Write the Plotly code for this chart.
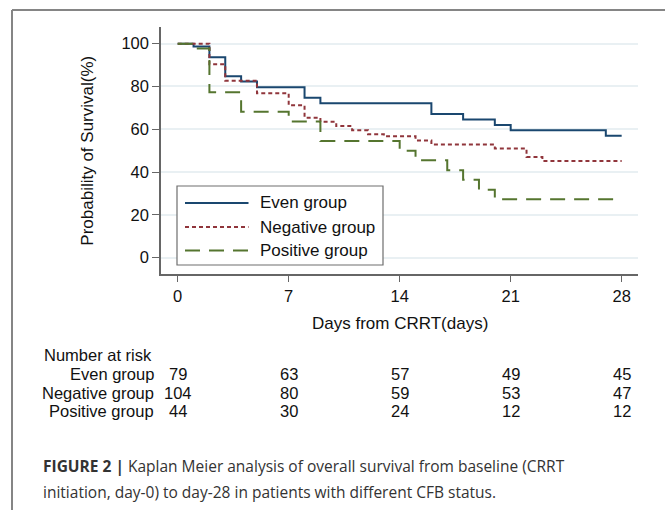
import plotly.graph_objects as go

# ---- data ----
groups = ["Even group", "Negative group", "Positive group"]

days_even = [0, 1, 2, 3, 4, 5, 8, 9, 16, 18, 20, 21, 27, 28]
surv_even = [100, 98.7, 93.7, 84.8, 82.3, 79.7, 74.7, 72.2, 67.1, 64.6, 62.0, 59.5, 57.0, 57.0]

days_neg = [0, 2, 3, 5, 7, 8, 9, 10, 11, 12, 13, 15, 16, 20, 22, 23, 28]
surv_neg = [100, 90.4, 82.7, 76.9, 71.2, 65.4, 63.5, 61.5, 59.6, 57.7, 56.7, 54.8, 52.9, 51.0, 47.1, 45.2, 45.2]

days_pos = [0, 1, 2, 4, 7, 9, 14, 15, 17, 18, 19, 20, 28]
surv_pos = [100, 97.7, 77.3, 68.2, 63.6, 54.5, 50.0, 45.5, 40.9, 36.4, 31.8, 27.3, 27.3]

risk_days = [0, 7, 14, 21, 28]
risk_even = [79, 63, 57, 49, 45]
risk_neg = [104, 80, 59, 53, 47]
risk_pos = [44, 30, 24, 12, 12]

x_ticks = [0, 7, 14, 21, 28]
y_ticks = [0, 20, 40, 60, 80, 100]

x_title = "Days from CRRT(days)"
y_title = "Probability of Survival(%)"
caption_bold = "FIGURE 2 |"
caption_line1 = " Kaplan Meier analysis of overall survival from baseline (CRRT"
caption_line2 = "initiation, day-0) to day-28 in patients with different CFB status."

# ---- styles ----
W, H = 665, 510
FONT = "Liberation Sans, Arial, sans-serif"
CAP_FONT = "Open Sans, Liberation Sans, sans-serif"
colors = ["#1a476f", "#90353b", "#55752f"]
dashes = ["solid", "4px,3px", "15px,9px"]


def px(x):
    return x / W


def py(y):
    return 1 - y / H


fig = go.Figure()
series = [(days_even, surv_even), (days_neg, surv_neg), (days_pos, surv_pos)]
for name, (d, s), c, ds in zip(groups, series, colors, dashes):
    fig.add_trace(go.Scatter(
        x=d, y=s, mode="lines", name=name, line_shape="hv",
        line=dict(color=c, width=2, dash=ds), showlegend=False,
        hoverinfo="skip"))

shapes = []
annotations = []

# frame (top and left border)
shapes.append(dict(type="line", xref="paper", yref="paper",
                   x0=px(12), x1=1, y0=py(10), y1=py(10),
                   line=dict(color="#858585", width=2)))
shapes.append(dict(type="line", xref="paper", yref="paper",
                   x0=px(12), x1=px(12), y0=py(10), y1=0,
                   line=dict(color="#858585", width=2)))

# manual legend
shapes.append(dict(type="rect", xref="paper", yref="paper",
                   x0=px(177), x1=px(383), y0=py(186), y1=py(265),
                   fillcolor="white", line=dict(color="#6e6e6e", width=1.2),
                   layer="above"))
leg_y = [203, 227, 250.5]
for name, c, ds, yy in zip(groups, colors, dashes, leg_y):
    shapes.append(dict(type="line", xref="paper", yref="paper",
                       x0=px(185), x1=px(248.5), y0=py(yy), y1=py(yy),
                       line=dict(color=c, width=2, dash=ds), layer="above"))
    annotations.append(dict(text=name, xref="paper", yref="paper",
                            x=px(258), y=py(yy), xanchor="left", yanchor="middle",
                            showarrow=False, font=dict(family=FONT, size=17, color="#111")))

# axis titles
annotations.append(dict(text=x_title, xref="x", yref="paper", x=14, y=py(323),
                        xanchor="center", yanchor="middle", showarrow=False,
                        font=dict(family=FONT, size=17, color="#111")))
annotations.append(dict(text=y_title, xref="paper", yref="y", x=px(88), y=50,
                        xanchor="center", yanchor="middle", textangle=-90, showarrow=False,
                        font=dict(family=FONT, size=17, color="#111")))

# number at risk table
annotations.append(dict(text="Number at risk", xref="paper", yref="paper",
                        x=px(42), y=py(355), xanchor="left", yanchor="middle",
                        showarrow=False, font=dict(family=FONT, size=16.5, color="#111")))
row_y = [374, 392.5, 411]
for name, vals, yy in zip(groups, [risk_even, risk_neg, risk_pos], row_y):
    annotations.append(dict(text=name, xref="paper", yref="paper",
                            x=px(155.5), y=py(yy), xanchor="right", yanchor="middle",
                            showarrow=False, font=dict(family=FONT, size=16.5, color="#111")))
    for dd, v in zip(risk_days, vals):
        annotations.append(dict(text=str(v), xref="x", yref="paper",
                                x=dd, y=py(yy), xanchor="center", yanchor="middle",
                                showarrow=False, font=dict(family=FONT, size=16.5, color="#111")))

# caption
annotations.append(dict(text="<b>" + caption_bold + "</b>" + caption_line1,
                        xref="paper", yref="paper", x=px(41), y=py(466),
                        xanchor="left", yanchor="middle", showarrow=False,
                        font=dict(family=CAP_FONT, size=15.5, color="#333")))
annotations.append(dict(text=caption_line2,
                        xref="paper", yref="paper", x=px(41), y=py(492),
                        xanchor="left", yanchor="middle", showarrow=False,
                        font=dict(family=CAP_FONT, size=15.5, color="#333")))

fig.update_layout(
    width=W, height=H,
    margin=dict(l=0, r=0, t=0, b=0),
    paper_bgcolor="white", plot_bgcolor="white",
    showlegend=False,
    shapes=shapes, annotations=annotations,
    xaxis=dict(domain=[px(161), px(638)], range=[-1.053, 29.03],
               tickvals=x_ticks, ticktext=[str(t) for t in x_ticks],
               showgrid=False, zeroline=False,
               showline=True, linecolor="#666", linewidth=1.5,
               ticks="outside", ticklen=6, tickcolor="#666", tickwidth=1,
               tickfont=dict(family=FONT, size=16.5, color="#111")),
    yaxis=dict(domain=[py(274), py(27)], range=[-7.62, 107.8],
               tickvals=y_ticks, ticktext=[str(t) for t in y_ticks],
               showgrid=True, gridcolor="#e9f0f3", gridwidth=1.5, zeroline=False,
               showline=True, linecolor="#666", linewidth=1.5,
               ticks="outside", ticklen=7, tickcolor="#666", tickwidth=1,
               tickfont=dict(family=FONT, size=16.5, color="#111")),
)

fig.write_html("out.html", config={"displayModeBar": False},
               post_script="document.body.style.margin='0';document.body.style.overflow='hidden';")
